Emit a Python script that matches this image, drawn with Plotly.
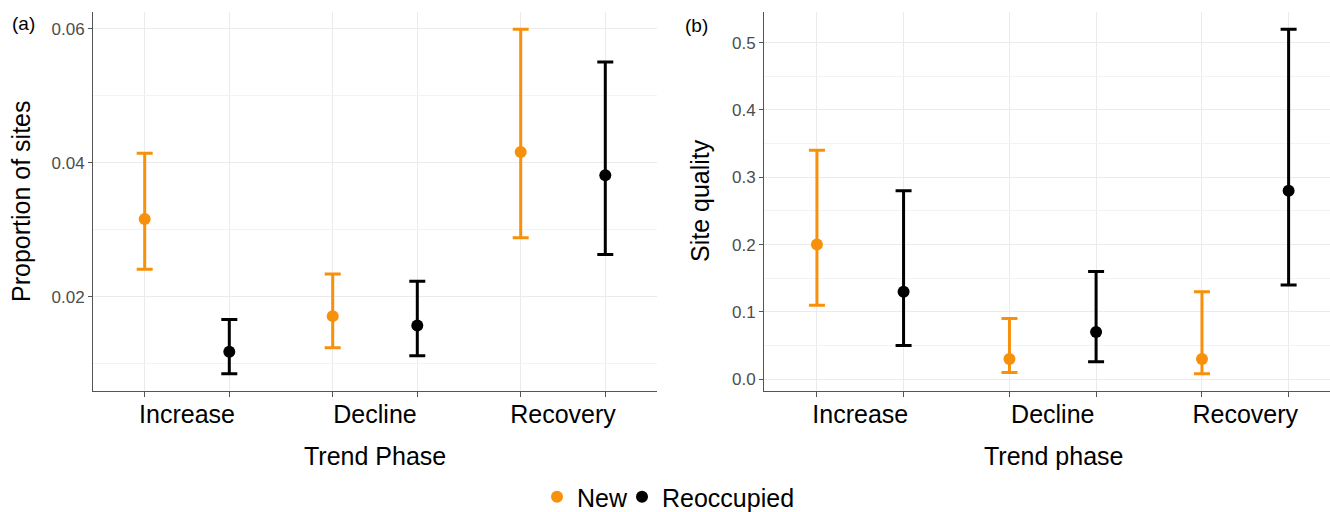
import plotly.graph_objects as go

# ---------------- data ----------------
categories = ["Increase", "Decline", "Recovery"]
groups = ["New", "Reoccupied"]

# Panel (a): proportion of sites
prop_new = [0.0316, 0.0171, 0.0416]
prop_new_lo = [0.0241, 0.0124, 0.0288]
prop_new_hi = [0.0414, 0.0234, 0.0599]
prop_reocc = [0.0118, 0.0157, 0.0381]
prop_reocc_lo = [0.0085, 0.0112, 0.0263]
prop_reocc_hi = [0.0166, 0.0223, 0.0550]

# Panel (b): site quality
qual_new = [0.20, 0.03, 0.03]
qual_new_lo = [0.11, 0.010, 0.008]
qual_new_hi = [0.34, 0.09, 0.13]
qual_reocc = [0.13, 0.07, 0.28]
qual_reocc_lo = [0.05, 0.026, 0.14]
qual_reocc_hi = [0.28, 0.16, 0.52]

colors = {"New": "#F7900A", "Reoccupied": "#000000"}
legend_ids = {"New": "legend", "Reoccupied": "legend2"}
DODGE = 0.45
FONT = "Liberation Sans, Arial, sans-serif"

idx = list(range(len(categories)))
offsets = {"New": -DODGE / 2, "Reoccupied": DODGE / 2}
dodged = sorted(i + o for i in idx for o in offsets.values())

fig = go.Figure()

panel_data = [
    ("x", "y", {"New": (prop_new, prop_new_lo, prop_new_hi),
                "Reoccupied": (prop_reocc, prop_reocc_lo, prop_reocc_hi)}, True),
    ("x2", "y2", {"New": (qual_new, qual_new_lo, qual_new_hi),
                  "Reoccupied": (qual_reocc, qual_reocc_lo, qual_reocc_hi)}, False),
]

for xa, ya, data, show in panel_data:
    for g in groups:
        vals, lo, hi = data[g]
        fig.add_trace(go.Scatter(
            x=[i + offsets[g] for i in idx],
            y=vals,
            mode="markers",
            name=g,
            legendgroup=g,
            legend=legend_ids[g],
            showlegend=show,
            marker=dict(color=colors[g], size=12),
            error_y=dict(
                type="data", symmetric=False,
                array=[h - v for h, v in zip(hi, vals)],
                arrayminus=[v - l for v, l in zip(vals, lo)],
                color=colors[g], thickness=3, width=8,
            ),
            xaxis=xa, yaxis=ya,
        ))

W, H = 1330, 512
ydom = [1 - 391 / H, 1 - 12 / H]

xcommon = dict(
    tickmode="array", tickvals=idx, ticktext=categories,
    ticks="", showgrid=False, zeroline=False,
    showline=True, linecolor="#555555", linewidth=1,
    tickfont=dict(family=FONT, size=25, color="#000000"),
    ticklabelstandoff=1,
    minor=dict(tickmode="array", tickvals=dodged, ticks="outside",
               ticklen=5, tickcolor="#555555", tickwidth=1,
               showgrid=True, gridcolor="#EBEBEB", gridwidth=1),
)
ycommon = dict(
    showgrid=True, gridcolor="#EBEBEB", gridwidth=1.2,
    zeroline=False, showline=True, linecolor="#555555", linewidth=1,
    ticks="outside", ticklen=4, tickcolor="#555555",
    tickfont=dict(family=FONT, size=17, color="#4D4D4D"),
)

legend_common = dict(
    orientation="h", xanchor="left", y=1 - 497 / H, yanchor="middle",
    font=dict(family=FONT, size=25, color="#000000"),
    itemwidth=30, bgcolor="rgba(0,0,0,0)",
)

fig.update_layout(
    width=W, height=H,
    margin=dict(l=0, r=0, t=0, b=0, autoexpand=False),
    paper_bgcolor="white", plot_bgcolor="white",
    xaxis=dict(domain=[93 / W, 657 / W], range=[-0.5, 2.5], anchor="y", **xcommon),
    xaxis2=dict(domain=[764 / W, 1.0], range=[-0.5, 2.44], anchor="y2", **xcommon),
    yaxis=dict(domain=ydom, range=[0.00593, 0.06247], anchor="x",
               tickvals=[0.02, 0.04, 0.06], tickformat=".2f",
               minor=dict(tickvals=[0.01, 0.03, 0.05], showgrid=True,
                          gridcolor="#F3F3F3", gridwidth=0.8, ticks=""),
               **ycommon),
    yaxis2=dict(domain=ydom, range=[-0.0176, 0.5456], anchor="x2",
                tickvals=[0.0, 0.1, 0.2, 0.3, 0.4, 0.5], tickformat=".1f",
                minor=dict(tickvals=[0.05, 0.15, 0.25, 0.35, 0.45], showgrid=True,
                           gridcolor="#F3F3F3", gridwidth=0.8, ticks=""),
                **ycommon),
    legend=dict(x=537 / W, **legend_common),
    legend2=dict(x=622 / W, **legend_common),
    font=dict(family=FONT),
)

ann = [
    dict(text="(a)", x=23 / W, y=1 - 23 / H, size=19, angle=0),
    dict(text="(b)", x=696 / W, y=1 - 25 / H, size=19, angle=0),
    dict(text="Proportion of sites", x=21 / W, y=1 - 201 / H, size=25, angle=-90),
    dict(text="Site quality", x=700 / W, y=1 - 201 / H, size=25, angle=-90),
    dict(text="Trend Phase", x=375 / W, y=1 - 456 / H, size=25, angle=0),
    dict(text="Trend phase", x=1053 / W, y=1 - 456 / H, size=25, angle=0),
]
for a in ann:
    fig.add_annotation(text=a["text"], x=a["x"], y=a["y"], xref="paper", yref="paper",
                       xanchor="center", yanchor="middle", showarrow=False,
                       textangle=a["angle"],
                       font=dict(family=FONT, size=a["size"], color="#000000"))

fig.write_html("out.html", post_script="document.body.style.margin='0';",
               config={"displayModeBar": False})
